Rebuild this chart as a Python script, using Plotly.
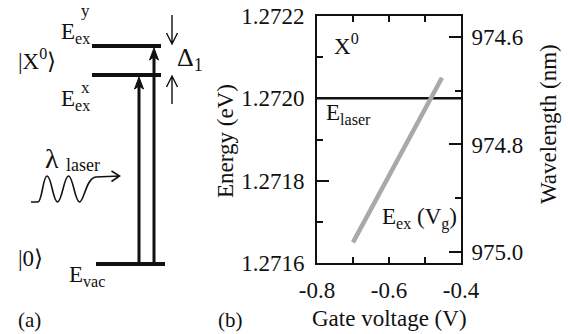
import plotly.graph_objects as go

# ---------------- data ----------------
gate_voltage = [-0.700, -0.650, -0.600, -0.550, -0.500, -0.453]
exciton_energy = [1.27165, 1.27173, 1.27181, 1.27189, 1.27197, 1.27205]
laser_energy = 1.2720
x_range = [-0.8, -0.4]
x_tickvals = [-0.8, -0.7, -0.6, -0.5, -0.4]
x_ticktext = ["-0.8", "", "-0.6", "", "-0.4"]
e_range = [1.2716, 1.2722]
e_tickvals = [1.2716, 1.2718, 1.2720, 1.2722]
e_ticktext = ["1.2716", "1.2718", "1.2720", "1.2722"]
e_minor = [1.2717, 1.2719, 1.2721]
wl_range = [975.0205, 974.561]
wl_tickvals = [974.6, 974.8, 975.0]
wl_ticktext = ["974.6", "974.8", "975.0"]
wl_minor = [974.7, 974.9]

W, H = 568, 334
FONT = "Liberation Serif"
BLACK = "#111111"
GRAY = "#a9a9a9"

fig = go.Figure()

fig.add_trace(go.Scatter(x=x_range, y=[laser_energy, laser_energy], mode="lines",
                         line=dict(color=BLACK, width=2.5), xaxis="x", yaxis="y",
                         showlegend=False, hoverinfo="skip"))
fig.add_trace(go.Scatter(x=gate_voltage, y=exciton_energy, mode="lines",
                         line=dict(color=GRAY, width=4.5), xaxis="x", yaxis="y",
                         showlegend=False))
# invisible trace to activate wavelength axis
fig.add_trace(go.Scatter(x=[None], y=[None], xaxis="x", yaxis="y2", showlegend=False))
# invisible trace for schematic overlay axes
fig.add_trace(go.Scatter(x=[None], y=[None], xaxis="x2", yaxis="y3", showlegend=False))

tickfont = dict(family=FONT, size=23, color=BLACK)
fig.update_layout(
    width=W, height=H, margin=dict(l=0, r=0, t=0, b=0),
    paper_bgcolor="white", plot_bgcolor="rgba(0,0,0,0)",
    font=dict(family=FONT, color=BLACK),
    xaxis=dict(domain=[317 / W, 461 / W], range=x_range, tickmode="array",
               tickvals=x_tickvals, ticktext=x_ticktext, ticks="inside", ticklen=6,
               tickwidth=2, tickcolor=BLACK, showline=True, linecolor=BLACK, linewidth=2,
               mirror="ticks", showgrid=False, zeroline=False, tickfont=tickfont,
               anchor="y", automargin=False, ticklabelstandoff=5),
    yaxis=dict(domain=[(H - 263) / H, (H - 16) / H], range=e_range, tickmode="array",
               tickvals=e_tickvals, ticktext=e_ticktext, ticks="inside", ticklen=12,
               tickwidth=2, tickcolor=BLACK, showline=True, linecolor=BLACK, linewidth=2,
               showgrid=False, zeroline=False, tickfont=tickfont, anchor="x",
               minor=dict(tickvals=e_minor, ticks="inside", ticklen=6, tickwidth=2,
                          tickcolor=BLACK),
               automargin=False, ticklabelstandoff=6),
    yaxis2=dict(overlaying="y", side="right", anchor="x", range=wl_range,
                tickmode="array", tickvals=wl_tickvals, ticktext=wl_ticktext,
                ticks="inside", ticklen=12, tickwidth=2, tickcolor=BLACK, showline=True,
                linecolor=BLACK, linewidth=2, showgrid=False, zeroline=False,
                tickfont=tickfont,
                minor=dict(tickvals=wl_minor, ticks="inside", ticklen=6, tickwidth=2,
                           tickcolor=BLACK),
                automargin=False, ticklabelstandoff=4),
    xaxis2=dict(domain=[0, 1], range=[0, W], visible=False, anchor="y3", fixedrange=True),
    yaxis3=dict(domain=[0, 1], range=[H, 0], visible=False, anchor="x2", fixedrange=True),
)

shapes = []
def seg(x0, y0, x1, y1, w):
    shapes.append(dict(type="line", xref="x2", yref="y3", x0=x0, y0=y0, x1=x1, y1=y1,
                       line=dict(color=BLACK, width=w), layer="above"))
def path(d, w=1.5, fill=None):
    s = dict(type="path", xref="x2", yref="y3", path=d, line=dict(color=BLACK, width=w),
             layer="above")
    if fill:
        s["fillcolor"] = fill
    shapes.append(s)

# energy levels
seg(92, 46, 161, 46, 4)
seg(92, 75, 161, 75, 4)
seg(96, 264, 165, 264, 4)
# excitation arrows (shafts + filled heads)
seg(139, 264, 139, 82, 3)
path("M139,77 L134.5,89 L139,86 L143.5,89 Z", 1, BLACK)
seg(154, 264, 154, 53, 3)
path("M154,48 L149.5,60 L154,57 L158.5,60 Z", 1, BLACK)
# delta arrows
path("M172,15 L172,44 M166.5,33 L172,44 L177.5,33", 1.4)
path("M172,104 L172,76 M166.5,87 L172,76 L177.5,87", 1.4)
# wavy photon line
path("M31,202 L38,202 "
     "C42,202 43,176 47,176 C51.5,176 53,202 57.5,202 "
     "C62,202 64,176 68.5,176 C73,176 75,202 79.5,202 "
     "C84,202 86,178 96,177 L119,176 "
     "M111.5,171 L119.5,176 L111.5,181.5", 1.6)
fig.update_layout(shapes=shapes)

ann = []
def txt(x, y, s, size=23, xanchor="left", angle=0):
    ann.append(dict(x=x, y=y, xref="x2", yref="y3", text=s, showarrow=False,
                    xanchor=xanchor, yanchor="middle", textangle=angle,
                    font=dict(family=FONT, size=size, color=BLACK)))

# schematic labels
txt(16, 59, "|X<sup>0</sup>⟩")
txt(59, 33, "E<sub>ex</sub>")
txt(79, 10, "y", 17)
txt(59, 100, "E<sub>ex</sub>")
txt(79, 87, "x", 17)
txt(175, 59, "Δ<sub>1</sub>", 26)
txt(43, 158, "λ", 28)
txt(64, 165, "laser", 18)
txt(16, 258, "|0⟩")
txt(67, 276, "E<sub>vac</sub>")
txt(16, 320, "(a)", 21)
txt(216, 320, "(b)", 21)
# plot labels
txt(332, 44, "X<sup>0</sup>")
txt(324, 114, "E<sub>laser</sub>")
txt(380, 218, "E<sub>ex</sub> (V<sub>g</sub>)")
txt(389, 318, "Gate voltage (V)", 23, "center")
txt(225, 141, "Energy (eV)", 23, "center", -90)
txt(548, 124, "Wavelength (nm)", 23, "center", -90)
fig.update_layout(annotations=ann)

fig.write_html("out.html", config={"displayModeBar": False},
               post_script="document.body.style.margin='0';"
                           "document.body.style.padding='0';"
                           "document.body.style.overflow='hidden';")
